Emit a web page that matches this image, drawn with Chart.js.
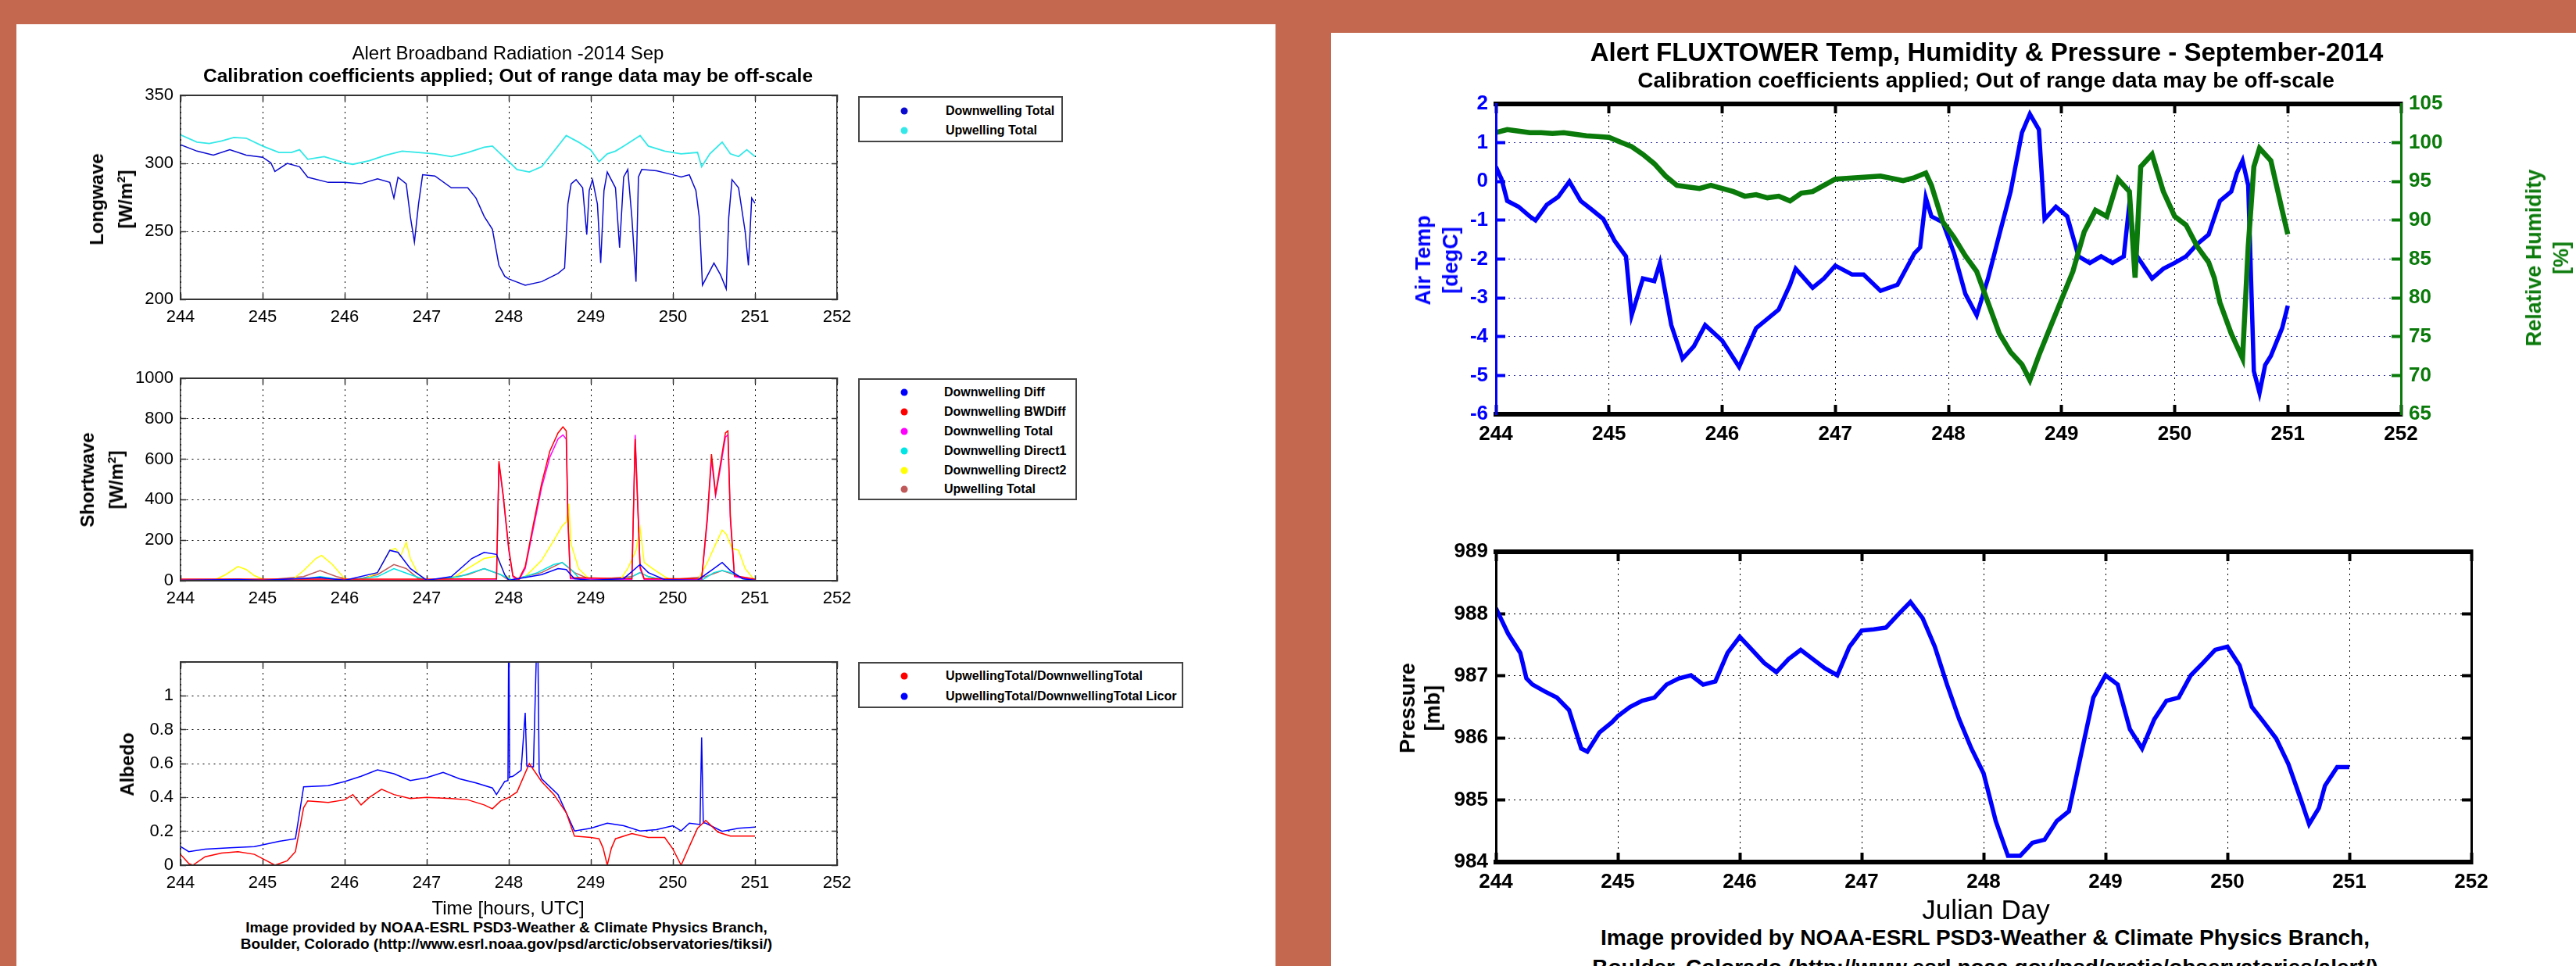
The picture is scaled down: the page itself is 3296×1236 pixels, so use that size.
<!DOCTYPE html>
<html>
<head>
<meta charset="utf-8">
<script src="https://cdn.jsdelivr.net/npm/chart.js@4.4.1/dist/chart.umd.min.js"></script>
<style>
  body { margin: 0; width: 3296px; height: 1236px; background: #c4694f; position: relative; overflow: hidden;
         font-family: 'Liberation Sans', Arial, sans-serif; }
  .panel { position: absolute; background: #fff; }
  canvas { position: absolute; }
  .t { position: absolute; white-space: nowrap; transform: translate(-50%, -50%); text-align: center; }
  .lg { position: absolute; border: 2px solid #444; background: #fff; box-sizing: border-box; }
  .lg div { position: absolute; white-space: nowrap; font: bold 16px 'Liberation Sans', Arial, sans-serif; transform: translateY(-50%); }
  .lg span { position: absolute; width: 9px; height: 9px; border-radius: 50%; transform: translate(-50%, -50%); }
</style>
</head>
<body>
<div class="panel" style="left:21px;top:31px;width:1611px;height:1205px"></div>
<div class="panel" style="left:1703px;top:42px;width:1593px;height:1194px"></div>
<canvas id="lwChart"></canvas>
<canvas id="swChart"></canvas>
<canvas id="albChart"></canvas>
<canvas id="tempChart"></canvas>
<canvas id="presChart"></canvas>
<script>
const FONT = "'Liberation Sans', Arial, sans-serif";

// longwave [day, W/m2]
const lwDownwelling = [[244.0,313.7],[244.2,309],[244.4,306],[244.6,310],[244.8,306],[245.0,304.5],[245.1,300.4],[245.15,294],[245.3,300],[245.45,297.5],[245.55,289.8],[245.8,286],[246.0,286],[246.2,285],[246.4,288.7],[246.55,286],[246.6,274.5],[246.65,289.8],[246.75,285],[246.8,261],[246.85,242],[246.9,270],[246.95,291.6],[247.1,290.7],[247.3,282],[247.5,282],[247.6,274.5],[247.7,261],[247.8,251.5],[247.88,225],[247.95,217],[248.0,215],[248.2,210.4],[248.4,213],[248.6,219],[248.68,223],[248.72,270],[248.76,285],[248.82,288],[248.9,282],[248.95,247.6],[248.98,280],[249.02,288],[249.08,270],[249.12,226.7],[249.16,280],[249.2,293.6],[249.3,282],[249.35,238],[249.4,290],[249.45,295.5],[249.5,260],[249.55,213],[249.58,290],[249.62,295.5],[249.8,294.5],[250.0,291.6],[250.1,290],[250.2,291.6],[250.28,280],[250.32,261],[250.36,210.4],[250.5,226.7],[250.58,218],[250.65,207.6],[250.68,260],[250.72,288],[250.8,282],[250.88,250],[250.92,225],[250.96,274.5],[251.0,270.6]];
const lwUpwelling = [[244.0,321],[244.2,315.6],[244.35,314.6],[244.5,316.5],[244.65,319],[244.8,318.5],[245.0,312.7],[245.2,308],[245.35,308],[245.45,310],[245.55,303],[245.75,305],[246.0,300.4],[246.1,299.3],[246.3,302],[246.5,306],[246.7,309],[246.9,308],[247.1,307],[247.3,305],[247.5,308],[247.7,311.8],[247.8,312.7],[247.9,307],[248.0,301.2],[248.1,295.5],[248.25,293.6],[248.4,297.5],[248.55,308.9],[248.7,320.4],[248.85,315.6],[249.0,309.8],[249.1,301.2],[249.2,307],[249.3,309],[249.4,312.7],[249.5,316.5],[249.6,320.4],[249.7,312.7],[249.9,309],[250.1,307],[250.3,308],[250.35,297.5],[250.45,307],[250.6,315.6],[250.7,307],[250.8,305],[250.9,310],[251.0,305]];

// shortwave [day, W/m2]
const swDiff = [[244.0,2],[244.7,6],[245.0,2],[245.7,15],[246.0,2],[246.4,40],[246.55,150],[246.65,140],[246.8,60],[247.0,2],[247.3,20],[247.55,110],[247.7,140],[247.85,130],[247.95,30],[248.0,2],[248.4,30],[248.6,60],[248.7,55],[248.8,10],[249.0,2],[249.4,10],[249.6,80],[249.7,40],[249.9,5],[250.3,2],[250.5,60],[250.6,90],[250.7,50],[250.85,10],[251.0,2]];
const swBWDiff = [[244.0,8],[245.0,8],[246.0,8],[247.0,8],[247.85,10],[247.88,590],[247.93,430],[248.0,160],[248.05,25],[248.12,5],[248.2,70],[248.3,280],[248.4,480],[248.5,640],[248.6,730],[248.66,760],[248.7,740],[248.72,320],[248.75,15],[249.5,10],[249.54,700],[249.57,380],[249.6,70],[249.65,10],[250.35,10],[250.42,320],[250.47,625],[250.52,430],[250.58,580],[250.64,730],[250.67,740],[250.7,320],[250.75,25],[251.0,8]];
const swTotal = [[244.0,3],[245.0,3],[246.0,3],[247.0,3],[247.85,5],[247.88,580],[247.93,420],[248.0,150],[248.05,20],[248.12,0],[248.2,60],[248.3,260],[248.4,460],[248.5,610],[248.6,700],[248.66,720],[248.7,700],[248.72,300],[248.75,10],[249.5,5],[249.54,720],[249.57,400],[249.6,60],[249.65,5],[250.35,5],[250.42,300],[250.47,600],[250.52,420],[250.58,560],[250.64,710],[250.67,720],[250.7,300],[250.75,20],[251.0,3]];
const swDirect1 = [[244.0,2],[245.4,2],[245.7,20],[246.0,2],[246.4,20],[246.6,60],[246.8,30],[247.0,2],[247.4,20],[247.7,60],[247.9,30],[248.05,2],[248.35,40],[248.55,80],[248.65,90],[248.75,60],[248.85,15],[249.0,2],[249.45,10],[249.6,40],[249.7,20],[249.9,2],[250.35,2],[250.5,40],[250.6,50],[250.7,40],[250.85,10],[251.0,2]];
const swDirect2 = [[244.0,0],[244.4,0],[244.55,30],[244.7,70],[244.8,55],[244.9,25],[245.05,0],[245.35,0],[245.5,50],[245.65,110],[245.72,125],[245.85,80],[246.0,10],[246.2,0],[246.4,40],[246.55,150],[246.62,160],[246.68,120],[246.75,190],[246.8,110],[246.9,30],[247.0,0],[247.3,10],[247.5,60],[247.7,110],[247.85,120],[247.95,30],[248.05,0],[248.2,20],[248.4,100],[248.55,200],[248.65,270],[248.7,290],[248.73,380],[248.76,180],[248.85,60],[249.0,0],[249.35,0],[249.45,60],[249.55,150],[249.6,260],[249.65,90],[249.75,60],[249.9,20],[250.0,0],[250.3,0],[250.42,90],[250.52,180],[250.6,250],[250.65,230],[250.72,160],[250.8,150],[250.88,60],[251.0,0]];
const swUpwelling = [[244.0,2],[244.7,8],[245.0,2],[245.5,20],[245.7,50],[245.9,20],[246.1,2],[246.4,30],[246.6,80],[246.75,60],[246.9,10],[247.1,2],[247.5,30],[247.7,60],[247.9,30],[248.0,2],[248.4,40],[248.65,90],[248.8,40],[249.0,5],[249.5,20],[249.6,40],[249.7,20],[249.9,2],[250.4,20],[250.6,50],[250.75,30],[250.9,5],[251.0,2]];

// albedo [day, ratio]
const albedo = [[244.0,0.064],[244.1,0.01],[244.15,0.0],[244.3,0.05],[244.5,0.072],[244.7,0.08],[244.9,0.064],[245.05,0.026],[245.15,0.0],[245.3,0.026],[245.4,0.08],[245.5,0.34],[245.55,0.38],[245.8,0.37],[246.0,0.386],[246.1,0.417],[246.2,0.356],[246.3,0.4],[246.45,0.448],[246.6,0.417],[246.8,0.394],[247.0,0.40],[247.3,0.394],[247.5,0.386],[247.7,0.356],[247.8,0.333],[247.9,0.379],[248.0,0.40],[248.1,0.432],[248.25,0.60],[248.4,0.494],[248.55,0.417],[248.7,0.31],[248.8,0.172],[249.0,0.164],[249.1,0.156],[249.15,0.1],[249.2,0.0],[249.25,0.1],[249.3,0.156],[249.5,0.187],[249.7,0.164],[249.9,0.164],[250.0,0.095],[250.1,0.0],[250.2,0.11],[250.3,0.218],[250.4,0.264],[250.55,0.195],[250.7,0.172],[251.0,0.172]];
const albedoLicor = [[244.0,0.11],[244.1,0.08],[244.3,0.095],[244.6,0.103],[244.9,0.11],[245.2,0.141],[245.4,0.156],[245.5,0.463],[245.8,0.47],[246.0,0.494],[246.2,0.525],[246.4,0.563],[246.6,0.54],[246.8,0.5],[247.0,0.517],[247.2,0.548],[247.4,0.51],[247.6,0.486],[247.8,0.456],[247.85,0.417],[247.95,0.494],[247.99,0.5],[248.0,1.5],[248.01,0.52],[248.05,0.525],[248.15,0.56],[248.2,0.9],[248.22,0.586],[248.3,0.58],[248.35,1.5],[248.37,0.55],[248.4,0.51],[248.6,0.417],[248.8,0.2025],[249.0,0.218],[249.2,0.248],[249.4,0.233],[249.6,0.2025],[249.8,0.21],[250.0,0.233],[250.1,0.2025],[250.2,0.248],[250.33,0.24],[250.35,0.755],[250.37,0.25],[250.4,0.248],[250.6,0.2],[250.8,0.218],[251.0,0.225]];

// fluxtower [day, degC] / [day, %] / [day, mb]
const airTemp = [[244.0,0.38],[244.05,0.06],[244.1,-0.5],[244.2,-0.65],[244.3,-0.9],[244.35,-1.0],[244.45,-0.6],[244.55,-0.4],[244.65,0.0],[244.75,-0.5],[244.85,-0.73],[244.95,-0.97],[245.05,-1.53],[245.15,-1.93],[245.2,-3.45],[245.3,-2.5],[245.4,-2.57],[245.45,-2.1],[245.55,-3.7],[245.65,-4.57],[245.75,-4.25],[245.85,-3.7],[246.0,-4.1],[246.15,-4.78],[246.3,-3.78],[246.5,-3.3],[246.6,-2.66],[246.65,-2.25],[246.8,-2.74],[246.9,-2.5],[247.0,-2.17],[247.15,-2.4],[247.25,-2.4],[247.4,-2.82],[247.55,-2.66],[247.7,-1.85],[247.75,-1.7],[247.8,-0.42],[247.85,-0.9],[247.95,-1.05],[248.05,-1.85],[248.15,-2.9],[248.25,-3.45],[248.35,-2.5],[248.45,-1.37],[248.55,-0.26],[248.65,1.26],[248.72,1.74],[248.8,1.34],[248.85,-0.97],[248.95,-0.65],[249.05,-0.9],[249.15,-1.93],[249.25,-2.1],[249.35,-1.93],[249.45,-2.1],[249.55,-1.93],[249.6,-0.57],[249.65,-1.85],[249.8,-2.5],[249.9,-2.25],[250.0,-2.1],[250.1,-1.93],[250.2,-1.61],[250.3,-1.37],[250.4,-0.5],[250.5,-0.26],[250.55,0.22],[250.6,0.54],[250.65,-0.1],[250.7,-4.89],[250.75,-5.45],[250.8,-4.73],[250.85,-4.5],[250.95,-3.78],[251.0,-3.2]];
const relHumidity = [[244.0,101.3],[244.1,101.7],[244.2,101.5],[244.3,101.3],[244.4,101.3],[244.5,101.2],[244.6,101.3],[244.8,100.9],[245.0,100.7],[245.1,100.1],[245.2,99.5],[245.3,98.5],[245.4,97.3],[245.5,95.7],[245.6,94.5],[245.7,94.3],[245.8,94.1],[245.9,94.5],[246.0,94.1],[246.1,93.7],[246.2,93.1],[246.3,93.3],[246.4,92.9],[246.5,93.1],[246.6,92.5],[246.7,93.5],[246.8,93.7],[246.9,94.5],[247.0,95.3],[247.2,95.5],[247.4,95.7],[247.6,95.1],[247.7,95.5],[247.8,96.1],[247.85,94.5],[247.95,89.8],[248.05,87.8],[248.15,85.4],[248.25,83.4],[248.35,79.4],[248.45,75.4],[248.55,73.0],[248.65,71.4],[248.72,69.4],[248.8,72.6],[248.9,76.2],[249.0,79.8],[249.1,83.4],[249.2,88.5],[249.3,91.3],[249.4,90.5],[249.5,95.3],[249.6,93.7],[249.65,82.6],[249.7,96.9],[249.8,98.5],[249.85,96.1],[249.9,93.7],[250.0,90.5],[250.1,89.4],[250.2,86.6],[250.3,84.6],[250.35,82.6],[250.4,79.4],[250.5,75.4],[250.6,72.2],[250.65,86.6],[250.7,96.9],[250.75,99.3],[250.85,97.7],[250.95,91.3],[251.0,88.2]];
const pressure = [[244.0,988.09],[244.1,987.68],[244.2,987.37],[244.25,986.96],[244.3,986.86],[244.4,986.75],[244.5,986.65],[244.6,986.45],[244.7,985.83],[244.75,985.78],[244.85,986.09],[244.95,986.25],[245.0,986.35],[245.1,986.5],[245.2,986.6],[245.3,986.65],[245.4,986.86],[245.5,986.96],[245.6,987.01],[245.7,986.86],[245.8,986.91],[245.9,987.37],[246.0,987.63],[246.1,987.42],[246.2,987.21],[246.3,987.06],[246.4,987.27],[246.5,987.42],[246.6,987.27],[246.7,987.12],[246.8,987.01],[246.9,987.47],[247.0,987.73],[247.1,987.75],[247.2,987.78],[247.3,987.99],[247.4,988.19],[247.5,987.93],[247.6,987.47],[247.7,986.86],[247.8,986.3],[247.9,985.83],[248.0,985.43],[248.1,984.66],[248.2,984.1],[248.3,984.1],[248.4,984.31],[248.5,984.36],[248.6,984.66],[248.7,984.82],[248.8,985.74],[248.9,986.65],[249.0,987.01],[249.1,986.86],[249.2,986.14],[249.3,985.83],[249.4,986.3],[249.5,986.6],[249.6,986.65],[249.7,987.01],[249.8,987.21],[249.9,987.42],[250.0,987.47],[250.1,987.17],[250.2,986.5],[250.3,986.25],[250.4,985.99],[250.5,985.58],[250.6,985.02],[250.67,984.61],[250.75,984.87],[250.8,985.23],[250.9,985.53],[251.0,985.53]];

const lwLabels = ['Downwelling Total', 'Upwelling Total'];
const lwColors = ['#0a0ad0', '#33e8e8'];
const swLabels = ['Downwelling Diff', 'Downwelling BWDiff', 'Downwelling Total', 'Downwelling Direct1', 'Downwelling Direct2', 'Upwelling Total'];
const swColors = ['#0000ff', '#ff0000', '#ff00ff', '#00e5e5', '#ffff00', '#c05a5a'];
const albLabels = ['UpwellingTotal/DownwellingTotal', 'UpwellingTotal/DownwellingTotal Licor'];
const albColors = ['#ff0000', '#0000ff'];

function addText(html, cx, cy, font, color, rot) {
  const d = document.createElement('div');
  d.className = 't';
  d.innerHTML = html;
  d.style.left = cx + 'px';
  d.style.top = cy + 'px';
  d.style.font = font;
  if (color) d.style.color = color;
  if (rot) d.style.transform = 'translate(-50%,-50%) rotate(-90deg)';
  document.body.appendChild(d);
  return d;
}

function addLegend(box, labels, colors, rows, dotX, textX) {
  const lg = document.createElement('div');
  lg.className = 'lg';
  lg.style.left = box[0] + 'px'; lg.style.top = box[1] + 'px';
  lg.style.width = (box[2] - box[0]) + 'px'; lg.style.height = (box[3] - box[1]) + 'px';
  labels.forEach((name, i) => {
    const s = document.createElement('span');
    s.style.left = (dotX - box[0]) + 'px'; s.style.top = (rows[i] - box[1]) + 'px';
    s.style.background = colors[i];
    const t = document.createElement('div');
    t.textContent = name;
    t.style.left = (textX - box[0]) + 'px'; t.style.top = (rows[i] - box[1]) + 'px';
    lg.appendChild(s); lg.appendChild(t);
  });
  document.body.appendChild(lg);
}

function series(label, pairs, color, width, axis, order) {
  return {
    label, data: pairs.map(p => ({ x: p[0], y: p[1] })),
    borderColor: color, backgroundColor: color, borderWidth: width,
    pointRadius: 0, tension: 0, yAxisID: axis || 'y', order: order || 0,
  };
}

function fmt(v) { return String(Math.round(v * 10) / 10); }

// inward tick marks (MATLAB style) via negative tick length
function tickGrid(st, color, onArea, gridColor) {
  return { display: true, drawOnChartArea: onArea, color: gridColor || '#000', lineWidth: 1,
           drawTicks: true, tickLength: -st.tickLen, tickWidth: st.tickW, tickColor: color };
}

// area = plot box on the page [x0, y0, x1, y1]
function makeChart(id, area, st, datasets, yScales) {
  const c = document.getElementById(id);
  c.width = st.yW + (area[2] - area[0]) + st.padR;
  c.height = st.padT + (area[3] - area[1]) + st.xH;
  c.style.left = (area[0] - st.yW) + 'px';
  c.style.top = (area[1] - st.padT) + 'px';
  const tickFont = { family: FONT, size: st.tick, weight: st.tickWeight };
  const scales = {
    x: {
      type: 'linear', min: 244, max: 252,
      afterFit: (s) => { s.height = st.xH; },
      ticks: { stepSize: 1, padding: 10 + st.tickLen, color: '#000', autoSkip: false, maxRotation: 0,
               font: tickFont, callback: (v) => String(v) },
      grid: tickGrid(st, st.frame, true),
      border: { color: st.frame, width: st.frameTB, dash: st.xDash, z: 1 },
    },
    xTop: {
      type: 'linear', position: 'top', min: 244, max: 252,
      afterFit: (s) => { s.height = 0; },
      ticks: { display: false, stepSize: 1 },
      grid: tickGrid(st, st.frame, false),
      border: { color: st.frame, width: st.frameTB, z: 1 },
    },
  };
  Object.assign(scales, yScales);
  return new Chart(c, {
    type: 'line',
    data: { datasets },
    options: {
      responsive: false, animation: false, devicePixelRatio: 1,
      layout: { padding: { top: st.padT, right: st.padR } },
      plugins: { legend: { display: false }, tooltip: { enabled: false } },
      scales,
    },
  });
}

function valAxis(st, pos, min, max, step, width, o) {
  const color = o.color || '#000';
  return {
    type: 'linear', position: pos, min, max,
    afterFit: (s) => { s.width = width; },
    ticks: { display: o.labels !== false, stepSize: step, padding: st.tickPad + st.tickLen, color,
             font: { family: FONT, size: st.tick, weight: st.tickWeight }, callback: o.cb || fmt },
    grid: tickGrid(st, o.border || st.frame, o.grid !== false, o.gridColor),
    border: { color: o.border || st.frame, width: st.frameLR, dash: st.yDash, z: 1 },
  };
}

const leftStyle = { tick: 22, tickWeight: 'normal', xH: 45, yW: 90, padT: 45, padR: 60, tickPad: 9,
                    tickLen: 7, tickW: 1.5, frame: '#333', frameTB: 2, frameLR: 1.5, xDash: [2, 5], yDash: [2, 5] };
const rightStyle = { tick: 26, tickWeight: 'bold', xH: 52, yW: 110, padT: 50, padR: 70, tickPad: 10,
                     tickLen: 12, tickW: 4, frame: '#000', frameTB: 6, frameLR: 3, xDash: [2, 5], yDash: [2, 5] };
const edgeAxis = (st, min, max, step) => valAxis(st, 'right', min, max, step, 0, { labels: false, grid: false });

// ---- left panel ----
makeChart('lwChart', [231, 122, 1071, 383], leftStyle,
  [series(lwLabels[0], lwDownwelling, lwColors[0], 1.5), series(lwLabels[1], lwUpwelling, lwColors[1], 1.8)],
  { y: valAxis(leftStyle, 'left', 200, 350, 50, 90, {}), yR: edgeAxis(leftStyle, 200, 350, 50) });

const swSets = [swDiff, swBWDiff, swTotal, swDirect1, swDirect2, swUpwelling];
makeChart('swChart', [231, 484, 1071, 743], leftStyle,
  swSets.map((d, i) => series(swLabels[i], d, swColors[i], 1.5)),
  { y: valAxis(leftStyle, 'left', 0, 1000, 200, 90, {}), yR: edgeAxis(leftStyle, 0, 1000, 200) });

makeChart('albChart', [231, 847, 1071, 1107], leftStyle,
  [series(albLabels[0], albedo, albColors[0], 1.5), series(albLabels[1], albedoLicor, albColors[1], 1.5)],
  { y: valAxis(leftStyle, 'left', 0, 1.2, 0.2, 90, { cb: (v) => (v > 1.05 ? '' : fmt(v)) }),
    yR: edgeAxis(leftStyle, 0, 1.2, 0.2) });

addLegend([1098, 123, 1360, 182], lwLabels, lwColors, [140, 165], 1155, 1208);
addLegend([1098, 484, 1378, 640], swLabels, swColors, [500, 525, 550, 575, 600, 624], 1155, 1206);
addLegend([1098, 847, 1514, 906], albLabels, albColors, [863, 889], 1155, 1208);

addText('Alert Broadband Radiation -2014 Sep', 650, 68, `24px ${FONT}`);
addText('Calibration coefficients applied; Out of range data may be off-scale', 650, 97, `bold 24.5px ${FONT}`);
addText('Longwave<br>[W/m<sup style="font-size:15px">2</sup>]', 142, 255, `bold 24px/31px ${FONT}`, '#000', true);
addText('Shortwave<br>[W/m<sup style="font-size:15px">2</sup>]', 130, 614, `bold 24px/31px ${FONT}`, '#000', true);
addText('Albedo', 163, 978, `bold 24px ${FONT}`, '#000', true);
addText('Time [hours, UTC]', 650, 1162, `24px ${FONT}`);
addText('Image provided by NOAA-ESRL PSD3-Weather &amp; Climate Physics Branch,', 648, 1187, `bold 19px ${FONT}`);
addText('Boulder, Colorado (http://www.esrl.noaa.gov/psd/arctic/observatories/tiksi/)', 648, 1208, `bold 19px ${FONT}`);

// ---- right panel ----
const tempStyle = Object.assign({}, rightStyle, { padR: 90 });
makeChart('tempChart', [1914, 133, 3162, 530], tempStyle,
  [series('Air Temp', airTemp, '#0000ff', 5.5, 'y', 1), series('Relative Humidity', relHumidity, '#0a7a0a', 6.5, 'yRH', 0)],
  {
    y: valAxis(tempStyle, 'left', -6, 2, 1, 110, { color: '#0000ff', border: '#0000ff', gridColor: '#3030a0' }),
    yRH: valAxis(tempStyle, 'right', 65, 105, 5, 90, { color: '#0a7a0a', border: '#0a7a0a', grid: false }),
  });

makeChart('presChart', [1914, 706, 3162, 1103], rightStyle,
  [series('Pressure', pressure, '#0000ff', 5.5)],
  { y: valAxis(rightStyle, 'left', 984, 989, 1, 110, {}), yR: edgeAxis(rightStyle, 984, 989, 1) });

addText('Alert FLUXTOWER Temp, Humidity &amp; Pressure - September-2014', 2542, 67, `bold 33px ${FONT}`);
addText('Calibration coefficients applied; Out of range data may be off-scale', 2541, 103, `bold 28px ${FONT}`);
addText('Air Temp<br>[degC]', 1839, 333, `bold 27px/35px ${FONT}`, '#0000ff', true);
addText('Relative Humidity<br>[%]', 3260, 330, `bold 27px/35px ${FONT}`, '#0a7a0a', true);
addText('Pressure<br>[mb]', 1817, 906, `bold 27px/32px ${FONT}`, '#000', true);
addText('Julian Day', 2541, 1164, `35px ${FONT}`);
addText('Image provided by NOAA-ESRL PSD3-Weather &amp; Climate Physics Branch,', 2540, 1200, `bold 28px ${FONT}`);
addText('Boulder, Colorado (http://www.esrl.noaa.gov/psd/arctic/observatories/alert/)', 2540, 1238, `bold 28px ${FONT}`);
</script>
</body>
</html>
